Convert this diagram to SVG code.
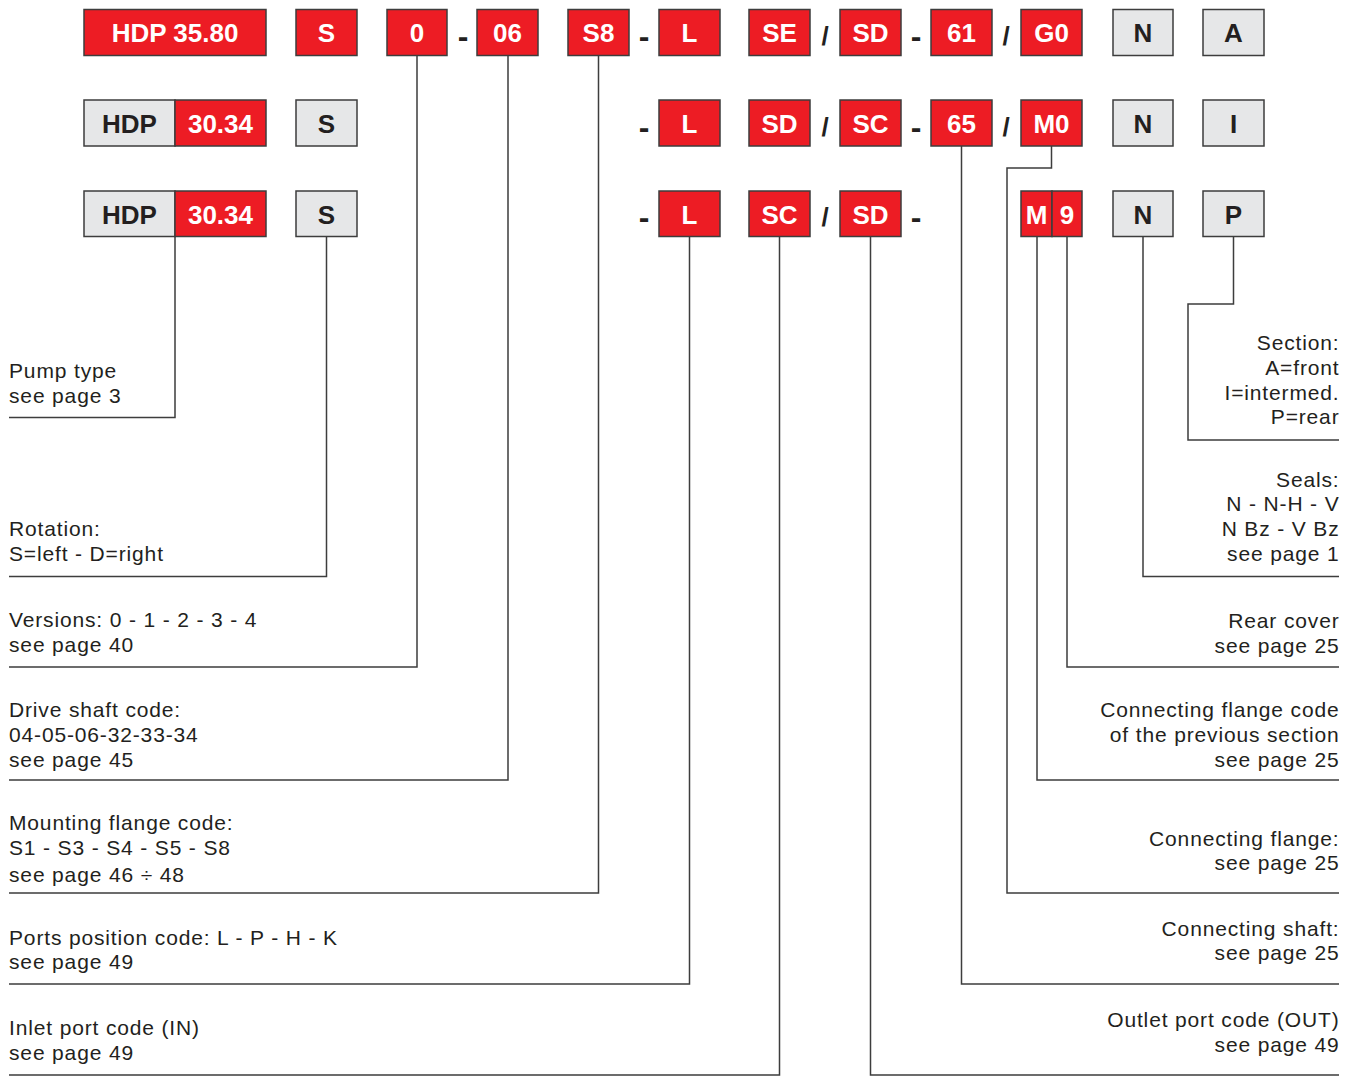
<svg xmlns="http://www.w3.org/2000/svg" width="1350" height="1080" viewBox="0 0 1350 1080">
<style>
.r{fill:#ed1c24;stroke:#3d3d3d;stroke-width:1.5}
.g{fill:#e6e7e8;stroke:#3d3d3d;stroke-width:1.5}
.bw{font-family:"Liberation Sans",Arial,sans-serif;font-weight:bold;font-size:26px;fill:#ffffff;text-anchor:middle}
.bd{font-family:"Liberation Sans",Arial,sans-serif;font-weight:bold;font-size:26px;fill:#231f20;text-anchor:middle}
.dash{font-family:"Liberation Sans",Arial,sans-serif;font-weight:bold;font-size:32px;fill:#231f20;text-anchor:middle}
.sl{font-family:"Liberation Sans",Arial,sans-serif;font-weight:bold;font-size:26px;fill:#231f20;text-anchor:middle}
.t{font-family:"Liberation Sans",Arial,sans-serif;font-size:21px;letter-spacing:0.85px;fill:#231f20}
.te{font-family:"Liberation Sans",Arial,sans-serif;font-size:21px;letter-spacing:0.85px;fill:#231f20;text-anchor:end}
.c{fill:none;stroke:#3d3d3d;stroke-width:1.5}
</style>
<rect width="1350" height="1080" fill="#ffffff"/>
<g id="connectors">
<polyline class="c" points="175,236 175,417.5 9,417.5"/>
<polyline class="c" points="326.5,236 326.5,576.5 9,576.5"/>
<polyline class="c" points="417,55 417,667 9,667"/>
<polyline class="c" points="508,55 508,780 9,780"/>
<polyline class="c" points="598.5,55 598.5,893 9,893"/>
<polyline class="c" points="689.5,236 689.5,984 9,984"/>
<polyline class="c" points="779.5,236 779.5,1075 9,1075"/>
<polyline class="c" points="870.5,236 870.5,1075 1339,1075"/>
<polyline class="c" points="961.5,146 961.5,984 1339,984"/>
<polyline class="c" points="1051.5,146 1051.5,168 1007,168 1007,893 1339,893"/>
<polyline class="c" points="1037,236 1037,780 1339,780"/>
<polyline class="c" points="1067,236 1067,667 1339,667"/>
<polyline class="c" points="1143,236 1143,576.5 1339,576.5"/>
<polyline class="c" points="1233.5,236 1233.5,304 1188,304 1188,440 1339,440"/>
</g>
<g id="row1">
<g id="r1-hdp"><rect class="r" x="84" y="9.5" width="182" height="46"/><text class="bw" x="175" y="42">HDP 35.80</text></g>
<g id="r1-s"><rect class="r" x="296" y="9.5" width="61" height="46"/><text class="bw" x="326.5" y="42">S</text></g>
<g id="r1-0"><rect class="r" x="387" y="9.5" width="60" height="46"/><text class="bw" x="417" y="42">0</text></g>
<text class="dash" x="463" y="46.5">-</text>
<g id="r1-06"><rect class="r" x="477" y="9.5" width="61" height="46"/><text class="bw" x="507.5" y="42">06</text></g>
<g id="r1-s8"><rect class="r" x="568" y="9.5" width="61" height="46"/><text class="bw" x="598.5" y="42">S8</text></g>
<text class="dash" x="644" y="46.5">-</text>
<g id="r1-l"><rect class="r" x="659" y="9.5" width="61" height="46"/><text class="bw" x="689.5" y="42">L</text></g>
<g id="r1-se"><rect class="r" x="749" y="9.5" width="61" height="46"/><text class="bw" x="779.5" y="42">SE</text></g>
<text class="sl" x="825" y="44.5">/</text>
<g id="r1-sd"><rect class="r" x="840" y="9.5" width="61" height="46"/><text class="bw" x="870.5" y="42">SD</text></g>
<text class="dash" x="916" y="46.5">-</text>
<g id="r1-61"><rect class="r" x="931" y="9.5" width="61" height="46"/><text class="bw" x="961.5" y="42">61</text></g>
<text class="sl" x="1006" y="44.5">/</text>
<g id="r1-g0"><rect class="r" x="1021" y="9.5" width="61" height="46"/><text class="bw" x="1051.5" y="42">G0</text></g>
<g id="r1-n"><rect class="g" x="1113" y="9.5" width="60" height="46"/><text class="bd" x="1143" y="42">N</text></g>
<g id="r1-a"><rect class="g" x="1203" y="9.5" width="61" height="46"/><text class="bd" x="1233.5" y="42">A</text></g>
</g>
<g id="row2">
<g id="r2-hdp"><rect class="g" x="84" y="100" width="91" height="46"/><text class="bd" x="129.5" y="133">HDP</text></g>
<g id="r2-3034"><rect class="r" x="175" y="100" width="91" height="46"/><text class="bw" x="220.5" y="133">30.34</text></g>
<g id="r2-s"><rect class="g" x="296" y="100" width="61" height="46"/><text class="bd" x="326.5" y="133">S</text></g>
<text class="dash" x="644" y="137.5">-</text>
<g id="r2-l"><rect class="r" x="659" y="100" width="61" height="46"/><text class="bw" x="689.5" y="133">L</text></g>
<g id="r2-sd"><rect class="r" x="749" y="100" width="61" height="46"/><text class="bw" x="779.5" y="133">SD</text></g>
<text class="sl" x="825" y="135.5">/</text>
<g id="r2-sc"><rect class="r" x="840" y="100" width="61" height="46"/><text class="bw" x="870.5" y="133">SC</text></g>
<text class="dash" x="916" y="137.5">-</text>
<g id="r2-65"><rect class="r" x="931" y="100" width="61" height="46"/><text class="bw" x="961.5" y="133">65</text></g>
<text class="sl" x="1006" y="135.5">/</text>
<g id="r2-m0"><rect class="r" x="1021" y="100" width="61" height="46"/><text class="bw" x="1051.5" y="133">M0</text></g>
<g id="r2-n"><rect class="g" x="1113" y="100" width="60" height="46"/><text class="bd" x="1143" y="133">N</text></g>
<g id="r2-i"><rect class="g" x="1203" y="100" width="61" height="46"/><text class="bd" x="1233.5" y="133">I</text></g>
</g>
<g id="row3">
<g id="r3-hdp"><rect class="g" x="84" y="191" width="91" height="45.5"/><text class="bd" x="129.5" y="223.5">HDP</text></g>
<g id="r3-3034"><rect class="r" x="175" y="191" width="91" height="45.5"/><text class="bw" x="220.5" y="223.5">30.34</text></g>
<g id="r3-s"><rect class="g" x="296" y="191" width="61" height="45.5"/><text class="bd" x="326.5" y="223.5">S</text></g>
<text class="dash" x="644" y="228">-</text>
<g id="r3-l"><rect class="r" x="659" y="191" width="61" height="45.5"/><text class="bw" x="689.5" y="223.5">L</text></g>
<g id="r3-sc"><rect class="r" x="749" y="191" width="61" height="45.5"/><text class="bw" x="779.5" y="223.5">SC</text></g>
<text class="sl" x="825" y="226">/</text>
<g id="r3-sd"><rect class="r" x="840" y="191" width="61" height="45.5"/><text class="bw" x="870.5" y="223.5">SD</text></g>
<text class="dash" x="916" y="228">-</text>
<g id="r3-m"><rect class="r" x="1021" y="191" width="31" height="45.5"/><text class="bw" x="1036.5" y="223.5">M</text></g>
<g id="r3-9"><rect class="r" x="1052" y="191" width="30" height="45.5"/><text class="bw" x="1067" y="223.5">9</text></g>
<g id="r3-n"><rect class="g" x="1113" y="191" width="60" height="45.5"/><text class="bd" x="1143" y="223.5">N</text></g>
<g id="r3-p"><rect class="g" x="1203" y="191" width="61" height="45.5"/><text class="bd" x="1233.5" y="223.5">P</text></g>
</g>
<g id="labels-left">
<g id="lbl-pump"><text class="t" x="9" y="378">Pump type</text><text class="t" x="9" y="403">see page 3</text></g>
<g id="lbl-rotation"><text class="t" x="9" y="536">Rotation:</text><text class="t" x="9" y="561">S=left - D=right</text></g>
<g id="lbl-versions"><text class="t" x="9" y="627">Versions: 0 - 1 - 2 - 3 - 4</text><text class="t" x="9" y="652">see page 40</text></g>
<g id="lbl-drive"><text class="t" x="9" y="717">Drive shaft code:</text><text class="t" x="9" y="742">04-05-06-32-33-34</text><text class="t" x="9" y="767">see page 45</text></g>
<g id="lbl-mount"><text class="t" x="9" y="830">Mounting flange code:</text><text class="t" x="9" y="855">S1 - S3 - S4 - S5 - S8</text><text class="t" x="9" y="882">see page 46 ÷ 48</text></g>
<g id="lbl-ports"><text class="t" x="9" y="945">Ports position code: L - P - H - K</text><text class="t" x="9" y="969">see page 49</text></g>
<g id="lbl-inlet"><text class="t" x="9" y="1035">Inlet port code (IN)</text><text class="t" x="9" y="1060">see page 49</text></g>
</g>
<g id="labels-right">
<g id="lbl-section"><text class="te" x="1339.5" y="350">Section:</text><text class="te" x="1339.5" y="375">A=front</text><text class="te" x="1339.5" y="400">I=intermed.</text><text class="te" x="1339.5" y="424">P=rear</text></g>
<g id="lbl-seals"><text class="te" x="1339.5" y="487">Seals:</text><text class="te" x="1339.5" y="511">N - N-H - V</text><text class="te" x="1339.5" y="536">N Bz - V Bz</text><text class="te" x="1339.5" y="561">see page 1</text></g>
<g id="lbl-rear"><text class="te" x="1339.5" y="628">Rear cover</text><text class="te" x="1339.5" y="653">see page 25</text></g>
<g id="lbl-cfcode"><text class="te" x="1339.5" y="717">Connecting flange code</text><text class="te" x="1339.5" y="742">of the previous section</text><text class="te" x="1339.5" y="767">see page 25</text></g>
<g id="lbl-cflange"><text class="te" x="1339.5" y="846">Connecting flange:</text><text class="te" x="1339.5" y="870">see page 25</text></g>
<g id="lbl-cshaft"><text class="te" x="1339.5" y="936">Connecting shaft:</text><text class="te" x="1339.5" y="960">see page 25</text></g>
<g id="lbl-outlet"><text class="te" x="1339.5" y="1027">Outlet port code (OUT)</text><text class="te" x="1339.5" y="1052">see page 49</text></g>
</g>
</svg>
